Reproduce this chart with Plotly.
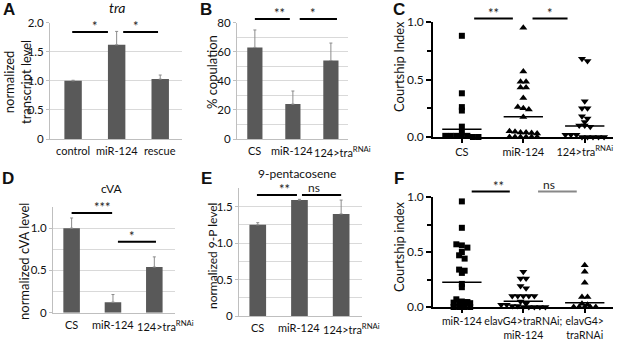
import plotly.graph_objects as go

W, H = 617, 341

# ------------------------------------------------------------------ data
a_cats = ["control", "miR-124", "rescue"]
a_vals = [1.0, 1.62, 1.03]
a_err = [0.01, 0.23, 0.07]

b_cats = ["CS", "miR-124", "124>tra<sup>RNAi</sup>"]
b_vals = [63, 24, 54]
b_err = [12, 9, 12]

c_cats = ["CS", "miR-124", "124>tra<sup>RNAi</sup>"]
c_cs = [0.88, 0.38, 0.26, 0.23, 0.09, 0.04, 0.01, 0.01, 0.01, 0.01, 0.01, 0.0, 0.0]
c_mir = [0.95, 0.57, 0.48, 0.48, 0.43, 0.43, 0.34, 0.26, 0.25, 0.24, 0.175,
         0.05, 0.045, 0.04, 0.04, 0.035, 0.03, 0.0, 0.0, 0.0, 0.0, 0.0, 0.0]
c_tra = [0.68, 0.66, 0.31, 0.25, 0.25, 0.18, 0.16, 0.13, 0.10, 0.09, 0.10,
         0.02, 0.02, 0.02, 0.0, 0.0, 0.0, 0.0, 0.0]
c_means = [0.067, 0.177, 0.096]

d_cats = ["CS", "miR-124", "124>tra<sup>RNAi</sup>"]
d_vals = [1.0, 0.125, 0.54]
d_err = [0.12, 0.09, 0.12]

e_cats = ["CS", "miR-124", "124>tra<sup>RNAi</sup>"]
e_vals = [1.25, 1.59, 1.40]
e_err = [0.03, 0.01, 0.19]

f_cats = ["miR-124", "elavG4>traRNAi;<br>miR-124", "elavG4><br>traRNAi"]
f_mir = [0.96, 0.72, 0.57, 0.56, 0.54, 0.50, 0.47, 0.44, 0.34, 0.33, 0.31, 0.21,
         0.18, 0.07, 0.05, 0.045, 0.04, 0.04, 0.04, 0.035, 0.0, 0.0, 0.0, 0.0]
f_mid = [0.32, 0.26, 0.26, 0.19, 0.17, 0.10, 0.10, 0.10, 0.10, 0.10, 0.05,
         0.03, 0.02, 0.02, 0.01, 0.01, 0.0, 0.0, 0.0, 0.0, 0.0]
f_right = [0.38, 0.32, 0.22, 0.09, 0.09, 0.03, 0.02, 0.0, 0.0, 0.0, 0.0, 0.0]
f_means = [0.224, 0.053, 0.038]

# ------------------------------------------------------------------ layout helpers
BAR = "#595959"
GRID = "#d9d9d9"
AXL = "#bfbfbf"
FONT = "Lato"


def xdom(p0, p1):
    return [p0 / W, p1 / W]


def ydom(top, bot):
    return [1 - bot / H, 1 - top / H]


# panel: (suffix, x px domain, y px domain (top,bottom), x range, y range)
panels = {
    "A": ("", (50, 182), (22.7, 139), [-0.53, 2.5], [0, 2.0]),
    "B": ("2", (237, 348), (22.7, 139), [-0.47, 2.45], [0, 80]),
    "C": ("3", (433, 613), (22, 137), [-0.47, 2.46], [0, 1.0]),
    "D": ("4", (53, 175), (207, 312.7), [-0.45, 2.5], [0, 1.25]),
    "E": ("5", (239, 362), (188.4, 316), [-0.45, 2.5], [0, 1.75]),
    "F": ("6", (433, 613), (197, 307), [-0.47, 2.46], [0, 1.0]),
}

fig = go.Figure()
layout = dict(
    template="none",
    width=W, height=H, margin=dict(l=0, r=0, t=0, b=0, autoexpand=False),
    paper_bgcolor="white", plot_bgcolor="white", showlegend=False,
    font=dict(family=FONT, size=11, color="#222"),
)
shapes, annots = [], []


def bar_panel(key, cats, vals, err, ytv, ytt, minor_vals, label_pos):
    s, xd, yd, xr, yr = panels[key]
    fig.add_trace(go.Bar(
        x=list(range(len(vals))), y=vals, width=0.4,
        marker=dict(color=BAR, line=dict(width=0)),
        error_y=dict(type="data", array=err, arrayminus=[0] * len(err),
                     symmetric=False, color="#8c8c8c", thickness=1, width=1.5),
        xaxis="x" + s, yaxis="y" + s,
    ))
    layout["xaxis" + s] = dict(
        domain=xdom(*xd), range=xr, anchor="y" + s, automargin=False,
        showticklabels=False,
        showline=True, linecolor=AXL, ticks="", showgrid=False, zeroline=False,
    )
    # category labels (Excel-style placement)
    for c, p in zip(cats, label_pos):
        annots.append(dict(text=c, xref="x" + s, yref="y%s domain" % s, x=p, y=0,
                           yanchor="top", xanchor="center", yshift=-3, showarrow=False,
                           font=dict(size=11, color="#111")))
    layout["yaxis" + s] = dict(
        domain=ydom(*yd), range=yr, anchor="x" + s, automargin=False,
        tickvals=ytv, ticktext=ytt, showgrid=True, gridcolor=GRID, gridwidth=1,
        showline=True, linecolor=AXL, ticks="outside", ticklen=3, tickcolor=AXL,
        zeroline=False, tickfont=dict(size=11.5, color="#111"),
        minor=dict(tickvals=minor_vals, showgrid=True, gridcolor=GRID, ticks=""),
    )


def swarm(vals, center, ystep, xstep):
    rows = []
    for v in sorted(vals, reverse=True):
        if rows and abs(rows[-1][0] - v) < ystep:
            rows[-1].append(v)
        else:
            rows.append([v])
    xs, ys = [], []
    for r in rows:
        n = len(r)
        for k, v in enumerate(r):
            xs.append(center + (k - (n - 1) / 2) * xstep)
            ys.append(v)
    return xs, ys


def dot_panel(key, cats, groups, symbols, means, tsize):
    s, xd, yd, xr, yr = panels[key]
    for i, (g, sym) in enumerate(zip(groups, symbols)):
        xs, ys = swarm(g, i, 0.03, 0.09)
        fig.add_trace(go.Scatter(
            x=xs, y=ys, mode="markers", cliponaxis=False,
            marker=dict(symbol=sym, size=6 if sym == "square" else 7, color="black"),
            xaxis="x" + s, yaxis="y" + s,
        ))
        fig.add_trace(go.Scatter(
            x=[i - 0.32, i + 0.32], y=[means[i], means[i]], mode="lines",
            line=dict(color="black", width=1.5), cliponaxis=False,
            xaxis="x" + s, yaxis="y" + s,
        ))
    layout["xaxis" + s] = dict(
        domain=xdom(*xd), range=xr, anchor="y" + s, automargin=False, tickangle=0,
        tickvals=list(range(len(cats))), ticktext=cats,
        showline=True, linecolor="black", linewidth=1.5,
        ticks="outside", ticklen=4, tickwidth=1.5, tickcolor="black",
        showgrid=False, zeroline=False, tickfont=dict(size=tsize, color="#111"),
    )
    layout["yaxis" + s] = dict(
        domain=ydom(*yd), range=yr, anchor="x" + s, automargin=False,
        tickvals=[0, 0.5, 1.0], ticktext=["0.0", "0.5", "1.0"],
        showline=True, linecolor="black", linewidth=1.5,
        ticks="outside", ticklen=5, tickwidth=1.5, tickcolor="black",
        showgrid=False, zeroline=False, tickfont=dict(size=12, color="#111"),
        minor=dict(tickvals=[0.25, 0.75], ticks="outside", ticklen=4,
                   tickwidth=1.5, tickcolor="black"),
    )


bar_panel("A", a_cats, a_vals, a_err, [0, 0.5, 1, 1.5, 2], ["0", "0.5", "1.0", "1.5", "2.0"],
          [], [0, 1, 2])
bar_panel("B", b_cats, b_vals, b_err, [0, 20, 40, 60, 80], ["0", "20", "40", "60", "80"],
          [10, 30, 50, 70], [0, 0.97, 2.3])
dot_panel("C", c_cats, [c_cs, c_mir, c_tra], ["square", "triangle-up", "triangle-down"],
          c_means, 11)
bar_panel("D", d_cats, d_vals, d_err, [0, 0.5, 1.0], ["0", "0.5", "1.0"], [0.25, 0.75, 1.25],
          [0, 1, 2.27])
bar_panel("E", e_cats, e_vals, e_err, [0, 0.5, 1.0, 1.5], ["0", "0.5", "1.0", "1.5"],
          [0.25, 0.75, 1.25, 1.75], [0, 1, 2.25])
dot_panel("F", f_cats, [f_mir, f_mid, f_right], ["square", "triangle-down", "triangle-up"],
          f_means, 10.5)

# ------------------------------------------------------------------ significance brackets
sig = {
    "A": [(-0.02, 0.8, 1.84, "*", "black"), (1.15, 1.95, 1.84, "*", "black")],
    "B": [(0.0, 0.92, 82.5, "**", "black"), (1.18, 2.16, 82.5, "*", "black")],
    "C": [(0.2, 0.83, 1.03, "**", "black"), (1.15, 1.72, 1.03, "*", "black")],
    "D": [(0.0, 0.98, 1.18, "***", "black"), (1.12, 2.04, 0.84, "*", "black")],
    "E": [(-0.02, 0.94, 1.66, "**", "black"), (1.06, 2.0, 1.66, "ns", "black")],
    "F": [(0.16, 0.78, 1.05, "**", "black"), (1.24, 1.87, 1.05, "ns", "#888")],
}
for key, items in sig.items():
    s, xd, yd, xr, yr = panels[key]
    for x0, x1, y, lab, col in items:
        fx0 = (x0 - xr[0]) / (xr[1] - xr[0])
        fx1 = (x1 - xr[0]) / (xr[1] - xr[0])
        fy = (y - yr[0]) / (yr[1] - yr[0])
        shapes.append(dict(type="line", xref="x%s domain" % s, yref="y%s domain" % s,
                           x0=fx0, x1=fx1, y0=fy, y1=fy, line=dict(color=col, width=2)))
        annots.append(dict(text=lab, xref="x%s domain" % s, yref="y%s domain" % s,
                           x=(fx0 + fx1) / 2, y=fy, yanchor="bottom", showarrow=False,
                           font=dict(size=12 if lab == "ns" else 13, color="#222"),
                           yshift=-4 if lab != "ns" else -2))

# ------------------------------------------------------------------ texts
def ptxt(text, x, y, size, angle=0, bold=False, italic=False, family=FONT):
    t = text
    if bold:
        t = "<b>%s</b>" % t
    if italic:
        t = "<i>%s</i>" % t
    annots.append(dict(text=t, xref="paper", yref="paper", x=x / W, y=1 - y / H,
                       xanchor="center", yanchor="middle", showarrow=False,
                       textangle=angle, font=dict(size=size, family=family, color="#111")))


for lab, x, y in [("A", 9, 10), ("B", 206, 10), ("C", 399, 10),
                  ("D", 8, 178), ("E", 206, 178), ("F", 399, 178)]:
    ptxt(lab, x, y, 17, bold=True, family="Liberation Sans")

ptxt("tra", 117, 8, 14, italic=True)
ptxt("cVA", 112, 189, 12)
ptxt("9-pentacosene", 297, 173, 12)

ptxt("normalized<br>transcript level", 17, 82, 13, angle=-90)
ptxt("% copulation", 212, 72, 13, angle=-90)
ptxt("Courtship Index", 399, 67, 13, angle=-90)
ptxt("normalized cVA level", 24, 262, 13, angle=-90)
ptxt("normalized 9-P level", 212, 256, 12, angle=-90)
ptxt("Courtship index", 399, 247, 13, angle=-90)

layout["shapes"] = shapes
layout["annotations"] = annots
fig.update_layout(**layout)

fig.write_html("out.html", config={"displayModeBar": False},
               post_script="document.body.style.margin='0';")
